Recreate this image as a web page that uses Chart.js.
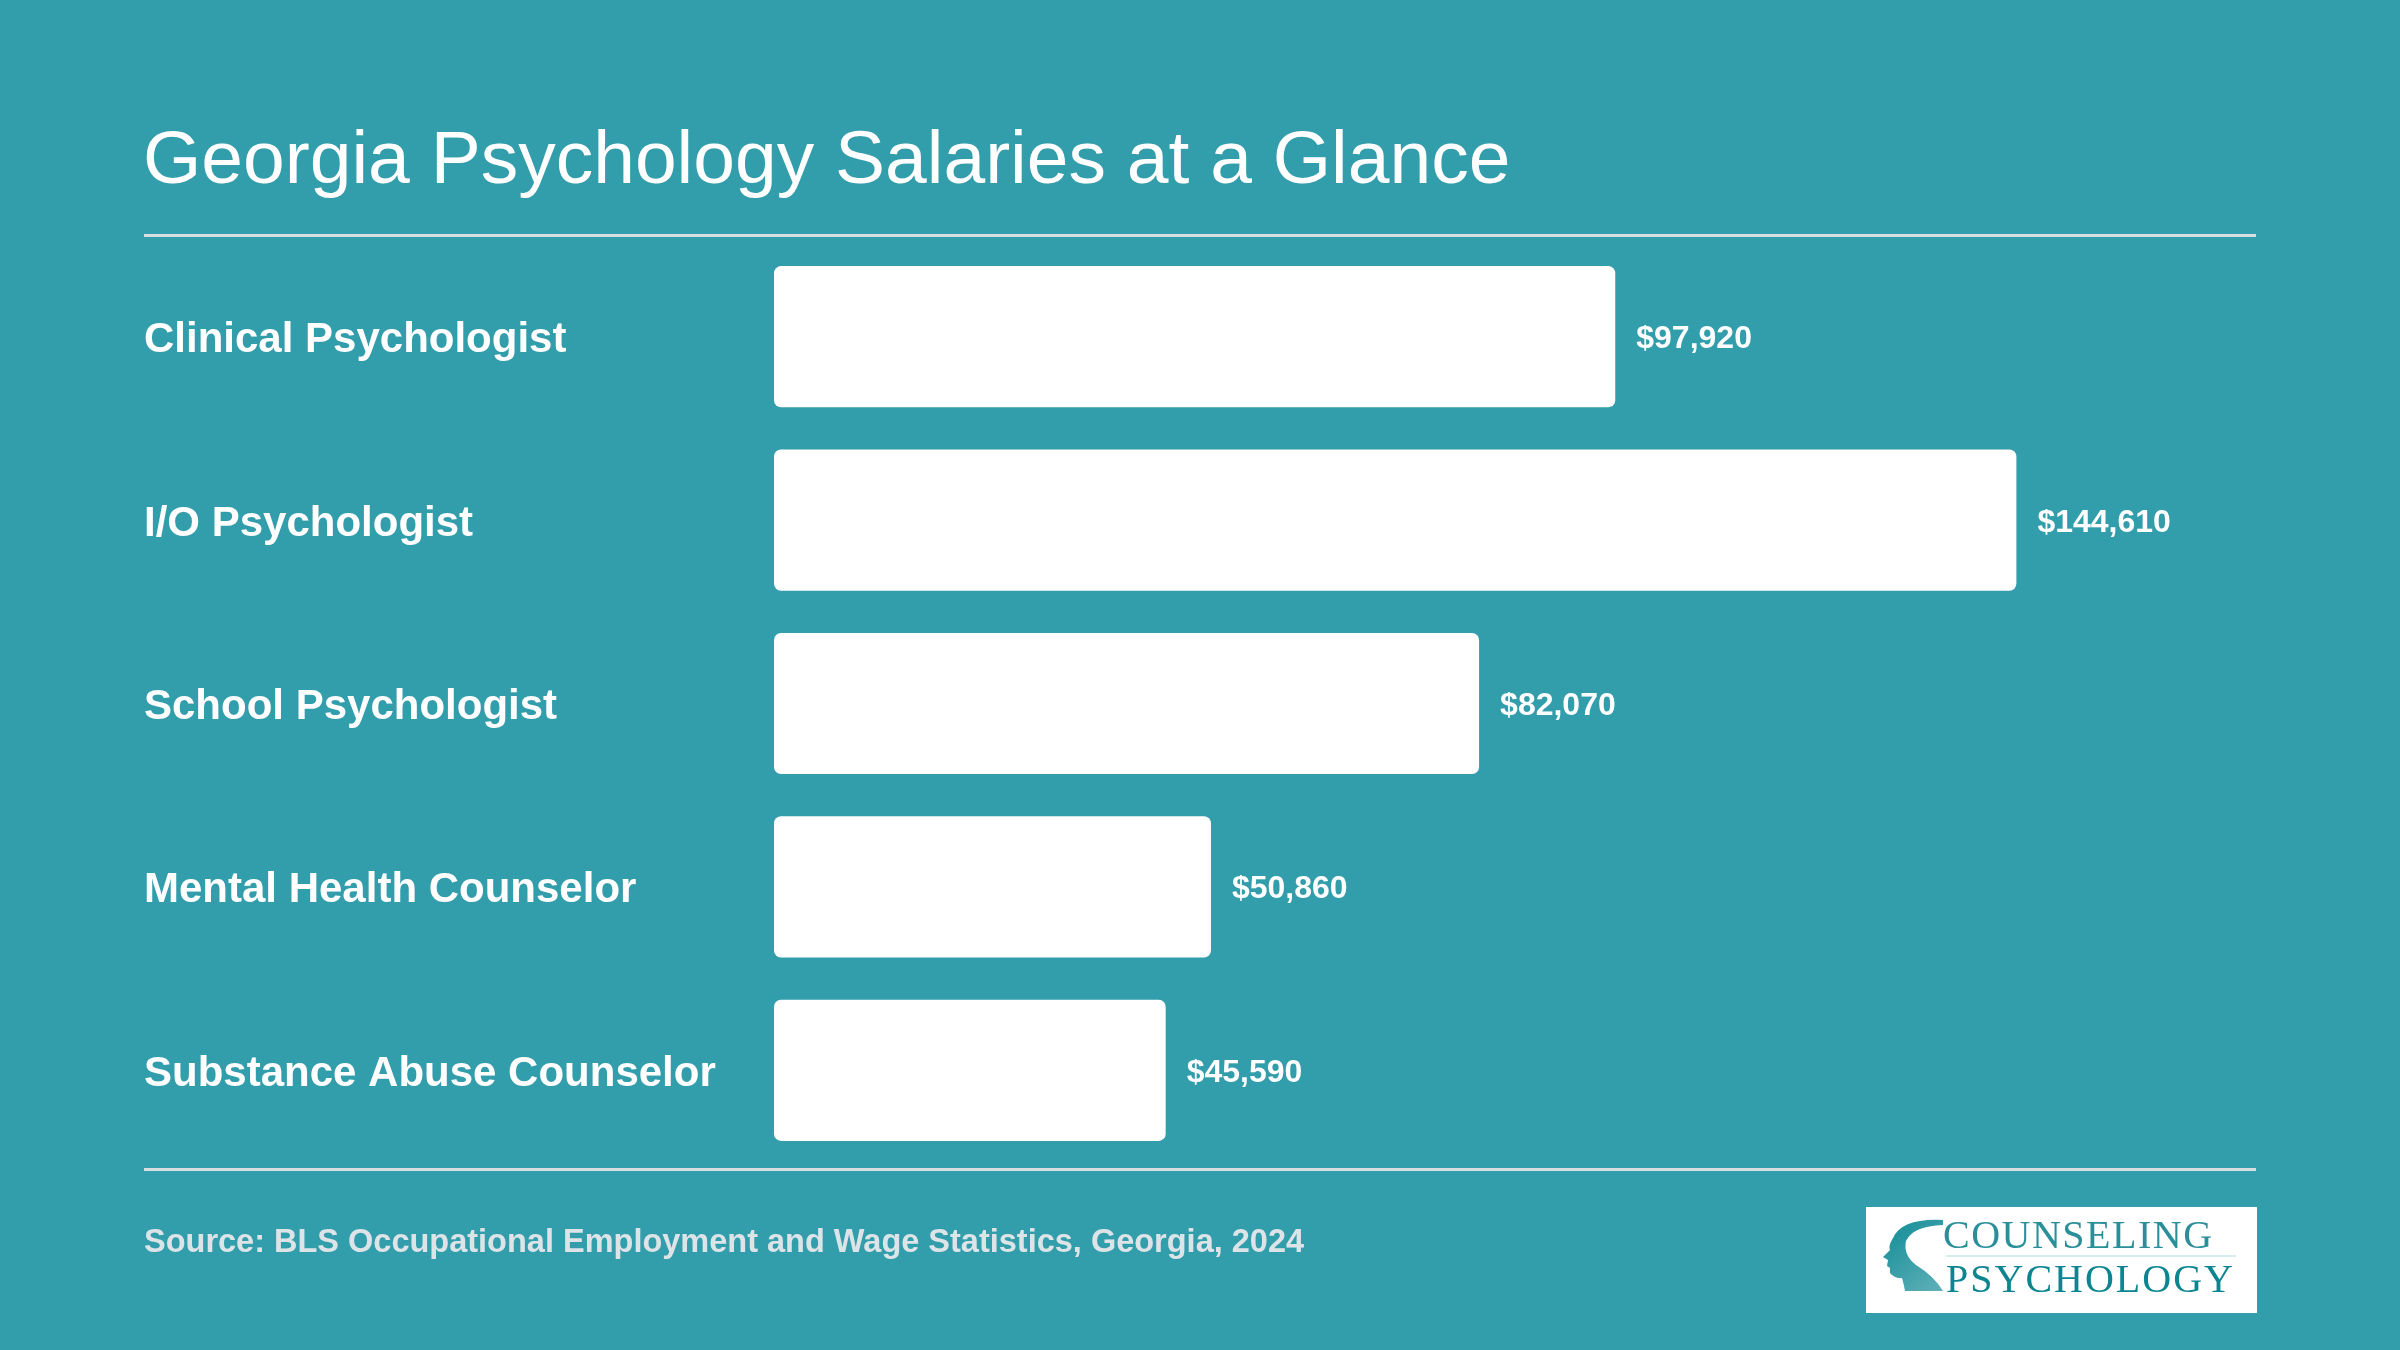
<!DOCTYPE html>
<html>
<head>
<meta charset="utf-8">
<title>Georgia Psychology Salaries at a Glance</title>
<script src="https://cdn.jsdelivr.net/npm/chart.js@4.4.1/dist/chart.umd.min.js"></script>
<style>
  html, body { margin: 0; padding: 0; background: #329dab; }
  #wrap { position: relative; width: 2400px; height: 1350px; }
  canvas { display: block; }
</style>
</head>
<body>
<div id="wrap"><canvas id="salaryChart" width="2400" height="1350"></canvas></div>
<script>
const categories = [
    "Clinical Psychologist",
    "I/O Psychologist",
    "School Psychologist",
    "Mental Health Counselor",
    "Substance Abuse Counselor"
];
const salaries = [97920, 144610, 82070, 50860, 45590];
const axisMax = 172500;

const titleText = "Georgia Psychology Salaries at a Glance";
const sourceText = "Source: BLS Occupational Employment and Wage Statistics, Georgia, 2024";

const bgColor = "#329dab";
const ruleColor = "#d9dee2";
const fontFamily = "'Liberation Sans', Arial, Helvetica, sans-serif";

function money(v) {
    return "$" + v.toLocaleString("en-US");
}

// draws the little counseling psychology badge in the corner
function drawLogo(ctx) {
    ctx.save();
    ctx.fillStyle = "#ffffff";
    ctx.fillRect(1866, 1207, 391, 106);

    // head silhouette
    const grad = ctx.createLinearGradient(1884, 1221, 1942, 1290);
    grad.addColorStop(0, "#118c96");
    grad.addColorStop(1, "#5fb0b8");
    ctx.fillStyle = grad;
    ctx.beginPath();
    ctx.moveTo(1943, 1220);
    ctx.quadraticCurveTo(1902, 1218, 1893, 1238);
    ctx.quadraticCurveTo(1888, 1246, 1890, 1250);
    ctx.lineTo(1883, 1257);
    ctx.lineTo(1888, 1260);
    ctx.lineTo(1887, 1266);
    ctx.lineTo(1890, 1268);
    ctx.lineTo(1890, 1273);
    ctx.quadraticCurveTo(1895, 1279, 1902, 1278);
    ctx.quadraticCurveTo(1904, 1285, 1905, 1291);
    ctx.lineTo(1943, 1291);
    ctx.quadraticCurveTo(1934, 1276, 1916, 1265);
    ctx.quadraticCurveTo(1903, 1255, 1906, 1241);
    ctx.quadraticCurveTo(1913, 1226, 1943, 1225);
    ctx.closePath();
    ctx.fill();

    ctx.textAlign = "left";
    ctx.textBaseline = "alphabetic";
    ctx.fillStyle = "#2a8f99";
    ctx.font = "40px 'Liberation Serif', 'DejaVu Serif', serif";
    ctx.letterSpacing = "1.5px";
    ctx.fillText("COUNSELING", 1943, 1248);

    ctx.fillStyle = "#d6ecee";
    ctx.fillRect(1946, 1255, 290, 2);

    ctx.fillStyle = "#0c8590";
    ctx.font = "40px 'Liberation Serif', 'DejaVu Serif', serif";
    ctx.letterSpacing = "2px";
    ctx.fillText("PSYCHOLOGY", 1946, 1292);
    ctx.restore();
}

const pagePlugin = {
    id: "page",
    beforeDraw(chart) {
        const ctx = chart.ctx;
        ctx.save();
        ctx.fillStyle = bgColor;
        ctx.fillRect(0, 0, chart.width, chart.height);

        // title
        ctx.fillStyle = "#ffffff";
        ctx.font = "75px " + fontFamily;
        ctx.textAlign = "left";
        ctx.textBaseline = "alphabetic";
        ctx.fillText(titleText, 143, 183);

        // rules
        ctx.fillStyle = ruleColor;
        ctx.fillRect(144, 234, 2112, 3);
        ctx.fillRect(144, 1168, 2112, 3);

        // source
        ctx.fillStyle = "#dde4e8";
        ctx.font = "bold 32.5px " + fontFamily;
        ctx.fillText(sourceText, 144, 1252);

        drawLogo(ctx);
        ctx.restore();
    },
    afterDatasetsDraw(chart) {
        const ctx = chart.ctx;
        const yScale = chart.scales.y;
        const meta = chart.getDatasetMeta(0);
        ctx.save();
        ctx.fillStyle = "#ffffff";
        ctx.textAlign = "left";
        ctx.textBaseline = "alphabetic";

        categories.forEach((name, i) => {
            const cy = yScale.getPixelForValue(i);
            ctx.font = "bold 42px " + fontFamily;
            ctx.fillText(name, 144, cy + 15.5);

            const bar = meta.data[i];
            ctx.font = "bold 32px " + fontFamily;
            ctx.fillText(money(salaries[i]), bar.x + 21, cy + 11.5);
        });
        ctx.restore();
    }
};

const ctx = document.getElementById("salaryChart").getContext("2d");
new Chart(ctx, {
    type: "bar",
    data: {
        labels: categories,
        datasets: [{
            label: "Annual mean wage",
            data: salaries,
            backgroundColor: "#ffffff",
            borderWidth: 0,
            borderRadius: 7,
            borderSkipped: false,
            barPercentage: 0.77,
            categoryPercentage: 1.0
        }]
    },
    options: {
        indexAxis: "y",
        responsive: false,
        devicePixelRatio: 1,
        animation: false,
        layout: {
            padding: { left: 774, right: 144, top: 245, bottom: 188 }
        },
        scales: {
            x: { display: false, min: 0, max: axisMax },
            y: { display: false }
        },
        plugins: {
            legend: { display: false },
            tooltip: { enabled: false }
        }
    },
    plugins: [pagePlugin]
});
</script>
</body>
</html>
